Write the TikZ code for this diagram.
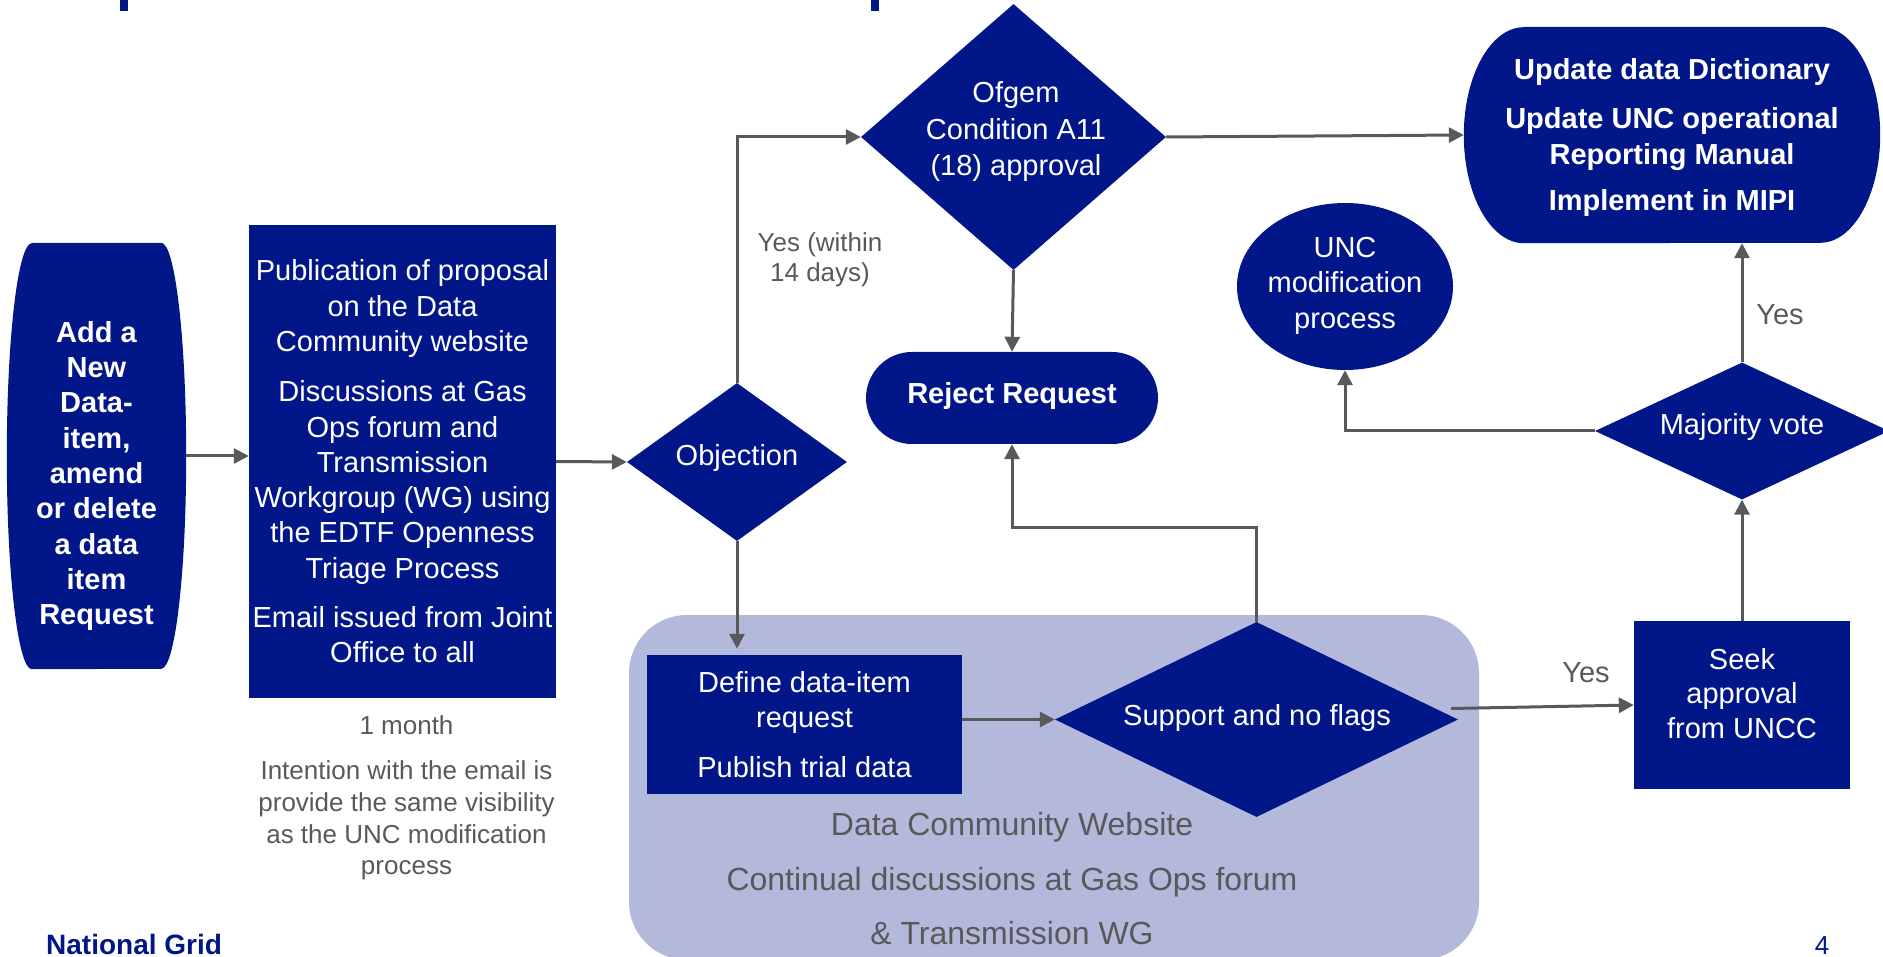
\documentclass[tikz,border=0pt]{standalone}
\usepackage{fontspec}
\setmainfont{Liberation Sans}
\usetikzlibrary{shapes.geometric,arrows.meta}
\definecolor{navy}{RGB}{0,22,137}
\definecolor{lightbl}{RGB}{179,185,219}
\definecolor{lgray}{RGB}{89,89,91}
\newcommand\fsz[2]{\fontsize{#1}{#2}\selectfont}
\begin{document}
\begin{tikzpicture}[x=1pt,y=1pt,
  wtxt/.style={text=white,align=center,inner sep=0,font=\fsz{29}{35.3}},
  wbold/.style={wtxt,font=\fsz{29}{35.3}\bfseries},
  gtxt/.style={text=lgray,align=center,inner sep=0},
  nbox/.style={fill=navy,draw=none,inner sep=0},
  dia/.style={diamond,fill=navy,draw=none,inner sep=0},
  ghost/.style={draw=none,inner sep=0},
  arr/.style={draw=lgray,line width=3pt,-{Triangle[length=15pt,width=15pt]}}]
\useasboundingbox (0,0) rectangle (1883,-957);

% title fragments at the top edge
\fill[navy] (120,0) rectangle (128,-11);
\fill[navy] (871,0) rectangle (879,-11);

% container
\node[fill=lightbl,draw=none,rounded corners=58pt,minimum width=850,minimum height=345,inner sep=0] (cbox) at (1054,-787.5) {};

% left terminator
\node[ghost,minimum width=179,minimum height=426] (addbox) at (96.5,-456) {};
\fill[navy] ([xshift=25]addbox.north west) -- ([xshift=-25]addbox.north east)
  arc[start angle=90,end angle=0,x radius=25,y radius=213]
  arc[start angle=0,end angle=-90,x radius=25,y radius=213]
  -- ([xshift=25]addbox.south west)
  arc[start angle=270,end angle=180,x radius=25,y radius=213]
  arc[start angle=180,end angle=90,x radius=25,y radius=213] -- cycle;
\node[wbold] (addtext) at (96.5,-476) {Add a\\New\\Data-\\item,\\amend\\or delete\\a data\\item\\Request};

% publication box
\node[nbox,wtxt,minimum width=307,minimum height=473] (pub) at (402.5,-461.5)
  {Publication of proposal\\on the Data\\Community website\\[15pt]Discussions at Gas\\Ops forum and\\Transmission\\Workgroup (WG) using\\the EDTF Openness\\Triage Process\\[14pt]Email issued from Joint\\Office to all};
\node[gtxt,font=\fsz{26}{31}] (month) at (406.5,-725) {1 month};
\node[gtxt,font=\fsz{26}{31.7}] (intent) at (406.5,-820.5) {Intention with the email is\\provide the same visibility\\as the UNC modification\\process};

% objection
\node[dia,minimum width=220,minimum height=158] (obj) at (737,-462) {};
\node[wtxt] (objT) at (737,-458) {Objection};

% ofgem
\node[dia,minimum width=305,minimum height=266] (ofgem) at (1013.5,-137) {};
\node[wtxt,font=\fsz{29}{36.5}] (ofgemT) at (1016,-132) {Ofgem\\Condition A11\\(18) approval};
\node[gtxt,font=\fsz{26}{30}] (yes1) at (820,-260) {Yes (within\\14 days)};

% reject
\node[nbox,rounded corners=46pt,minimum width=292,minimum height=92] (reject) at (1012,-398) {};
\node[wbold] (rejectT) at (1012,-396) {Reject Request};

% update
\node[ghost,minimum width=416,minimum height=216] (updbox) at (1672,-135) {};
\fill[navy] ([xshift=60]updbox.north west) -- ([xshift=-60]updbox.north east)
  arc[start angle=90,end angle=0,x radius=60,y radius=108]
  arc[start angle=0,end angle=-90,x radius=60,y radius=108]
  -- ([xshift=60]updbox.south west)
  arc[start angle=270,end angle=180,x radius=60,y radius=108]
  arc[start angle=180,end angle=90,x radius=60,y radius=108] -- cycle;
\node[wbold,font=\fsz{29}{36}\bfseries] (updT) at (1672,-138)
  {Update data Dictionary\\[12.5pt]Update UNC operational\\Reporting Manual\\[10.5pt]Implement in MIPI};

% UNC modification process
\node[ellipse,fill=navy,draw=none,inner sep=0,minimum width=216,minimum height=167] (unc) at (1345,-286.5) {};
\node[wtxt,font=\fsz{29}{35.5}] (uncT) at (1345,-285.5) {UNC\\modification\\process};

% majority vote
\node[dia,minimum width=294,minimum height=137] (maj) at (1742,-431) {};
\node[wtxt] (majT) at (1742,-427) {Majority vote};
\node[gtxt,font=\fsz{29}{35}] (yes2) at (1780,-315) {Yes};

% define
\node[nbox,wtxt,minimum width=315,minimum height=139] (define) at (804.5,-724.5)
  {Define data-item\\request\\[14pt]Publish trial data};

% support
\node[dia,minimum width=403,minimum height=195] (support) at (1256.5,-719.5) {};
\node[wtxt] (supT) at (1257,-718) {Support and no flags};

% seek
\node[nbox,minimum width=216,minimum height=168] (seek) at (1742,-705) {};
\node[wtxt,font=\fsz{29}{34.5}] (seekT) at (1742,-693.5) {Seek\\approval\\from UNCC};
\node[gtxt,font=\fsz{29}{35}] (yes3) at (1586,-673) {Yes};

% container texts
\node[gtxt,font=\fsz{32}{38}] (dcw) at (1012,-827) {Data Community Website};
\node[gtxt,font=\fsz{32}{38}] (cont) at (1012,-882) {Continual discussions at Gas Ops forum};
\node[gtxt,font=\fsz{32}{38}] (trans) at (1012,-933) {\& Transmission WG};

% footer
\node[text=navy,inner sep=0,anchor=base west,font=\fsz{28}{32}\bfseries] (ng) at (46,-954) {National Grid};
\node[text=navy,inner sep=0,anchor=base,font=\fsz{26}{30}] (pg) at (1822,-954) {4};

% connectors
\draw[arr] (addbox.east) -- (addbox.east -| pub.west);
\draw[arr] (pub.east) -- (obj.west);
\draw[arr] (obj.north) |- (ofgem.west);
\draw[arr,shorten >=6pt] (obj.south) -- (obj.south |- define.north);
\draw[arr] (ofgem.south) -- (reject.north);
\draw[arr] (ofgem.east) -- (updbox.west);
\draw[arr] (support.north) -- ++(0,94) -| (reject.south);
\draw[arr] (define.east |- support.west) -- (support.west);
\draw[arr] ([shift={(-7,11)}]support.east) -- (seek.west);
\draw[arr] (seek.north) -- (maj.south);
\draw[arr] (maj.west) -| (unc.south);
\draw[arr] (maj.north) -- (maj.north |- updbox.south);
\end{tikzpicture}
\end{document}
